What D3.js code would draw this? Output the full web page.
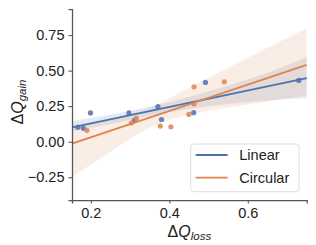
<!DOCTYPE html>
<html>
<head>
<meta charset="utf-8">
<script src="https://cdn.jsdelivr.net/npm/d3@7/dist/d3.min.js"></script>
<style>
  body { margin: 0; background: #fff; }
  text { font-family: "Liberation Sans", Arial, sans-serif; fill: #222; }
</style>
</head>
<body>
<div id="chart"></div>
<script>
// data
var linearX = [0.167, 0.181, 0.199, 0.297, 0.311, 0.371, 0.380, 0.462, 0.492, 0.730];
var linearY = [0.101, 0.094, 0.202, 0.202, 0.150, 0.246, 0.156, 0.204, 0.417, 0.431];
var circularX = [0.190, 0.303, 0.316, 0.377, 0.404, 0.450, 0.463, 0.463, 0.540];
var circularY = [0.080, 0.131, 0.164, 0.110, 0.105, 0.192, 0.265, 0.386, 0.421];
// confidence band edges (bootstrapped in the original), read at these x
var bandX = [0.152, 0.25, 0.35, 0.45, 0.55, 0.65, 0.75];
var linearLo = [0.075, 0.125, 0.185, 0.230, 0.265, 0.290, 0.307];
var linearHi = [0.145, 0.190, 0.245, 0.315, 0.395, 0.485, 0.595];
var circularLo = [-0.250, -0.070, 0.100, 0.190, 0.240, 0.280, 0.328];
var circularHi = [0.117, 0.160, 0.240, 0.380, 0.520, 0.660, 0.798];
var seriesNames = ["Linear", "Circular"];
var xTicks = [0.2, 0.4, 0.6];
var yTicks = [-0.25, 0.00, 0.25, 0.50, 0.75];

var _width = 316, _height = 245;
var margin = {left: 72, right: 9.3, top: 9, bottom: 45};
var colors = ["#4c72b0", "#dd8452"];

var svg = d3.select("#chart").append("svg")
    .attr("width", _width)
    .attr("height", _height);

var x = d3.scaleLinear().domain([0.152, 0.75]).range([margin.left, _width - margin.right]);
var y = d3.scaleLinear().domain([-0.41, 0.933]).range([_height - margin.bottom, margin.top]);

// ordinary least squares line
function fit(xs, ys) {
  var mx = d3.mean(xs), my = d3.mean(ys);
  var sxx = 0, sxy = 0;
  xs.forEach(function (v, i) { sxx += (v - mx) * (v - mx); sxy += (v - mx) * (ys[i] - my); });
  var b = sxy / sxx, a = my - b * mx;
  return x.domain().map(function (gx) { return [gx, a + b * gx]; });
}

var series = [
  {xs: linearX, ys: linearY, lo: linearLo, hi: linearHi},
  {xs: circularX, ys: circularY, lo: circularLo, hi: circularHi}
];

var plot = svg.append("g").attr("class", "body");

series.forEach(function (s, i) {
  plot.append("path")
      .datum(bandX.map(function (v, k) { return {x: v, lo: s.lo[k], hi: s.hi[k]}; }))
      .attr("fill", colors[i])
      .attr("fill-opacity", 0.15)
      .attr("d", d3.area()
          .curve(d3.curveMonotoneX)
          .x(function (d) { return x(d.x); })
          .y0(function (d) { return y(d.lo); })
          .y1(function (d) { return y(d.hi); }));
});

series.forEach(function (s, i) {
  plot.selectAll("circle.s" + i)
      .data(s.xs.map(function (v, k) { return [v, s.ys[k]]; }))
      .enter().append("circle")
      .attr("class", "s" + i)
      .attr("cx", function (d) { return x(d[0]); })
      .attr("cy", function (d) { return y(d[1]); })
      .attr("r", 2.6)
      .attr("fill", colors[i])
      .attr("fill-opacity", 0.85);
});

series.forEach(function (s, i) {
  plot.append("path")
      .datum(fit(s.xs, s.ys))
      .attr("fill", "none")
      .attr("stroke", colors[i])
      .attr("stroke-width", 1.8)
      .attr("d", d3.line()
          .x(function (d) { return x(d[0]); })
          .y(function (d) { return y(d[1]); }));
});

// axes
var xAxis = svg.append("g")
    .attr("transform", "translate(0," + (_height - margin.bottom) + ")")
    .call(d3.axisBottom(x).tickValues(xTicks).tickFormat(d3.format(".1f")).tickSize(3.5).tickPadding(4));
var yAxis = svg.append("g")
    .attr("transform", "translate(" + margin.left + ",0)")
    .call(d3.axisLeft(y).tickValues(yTicks).tickFormat(function (d) {
      return d3.format(".2f")(d).replace("-", "\u2212");
    }).tickSize(3.5).tickPadding(4));

[xAxis, yAxis].forEach(function (ax) {
  ax.select(".domain").attr("stroke", "#555").attr("stroke-width", 1.25);
  ax.selectAll(".tick line").attr("stroke", "#555").attr("stroke-width", 1.1);
  ax.selectAll(".tick text")
      .attr("font-size", "14.5px")
      .attr("fill", "#222")
      .attr("font-family", "Liberation Sans, Arial, sans-serif");
});

// axis labels
var xl = svg.append("text")
    .attr("x", (margin.left + _width - margin.right) / 2)
    .attr("y", 237)
    .attr("text-anchor", "middle")
    .attr("font-size", "16px");
xl.append("tspan").text("\u0394");
xl.append("tspan").attr("font-style", "italic").text("Q");
xl.append("tspan").attr("font-style", "italic").attr("font-size", "11.5px").attr("dy", 3).text("loss");

var yl = svg.append("text")
    .attr("transform", "translate(23," + 102 + ") rotate(-90)")
    .attr("text-anchor", "middle")
    .attr("font-size", "16px");
yl.append("tspan").text("\u0394");
yl.append("tspan").attr("font-style", "italic").text("Q");
yl.append("tspan").attr("font-style", "italic").attr("font-size", "11.5px").attr("dy", 3).text("gain");

// legend
var leg = svg.append("g").attr("transform", "translate(190.7,144)");
leg.append("rect")
    .attr("width", 108.3).attr("height", 47.7)
    .attr("rx", 3).attr("ry", 3)
    .attr("fill", "#fff").attr("fill-opacity", 0.8)
    .attr("stroke", "#ddd").attr("stroke-width", 1);
seriesNames.forEach(function (name, i) {
  var yy = 11 + i * 22.7;
  leg.append("line")
      .attr("x1", 5).attr("x2", 37)
      .attr("y1", yy).attr("y2", yy)
      .attr("stroke", colors[i]).attr("stroke-width", 1.8);
  leg.append("text")
      .attr("x", 48.6).attr("y", yy + 5.2)
      .attr("font-size", "14.5px")
      .text(name);
});
</script>
</body>
</html>
